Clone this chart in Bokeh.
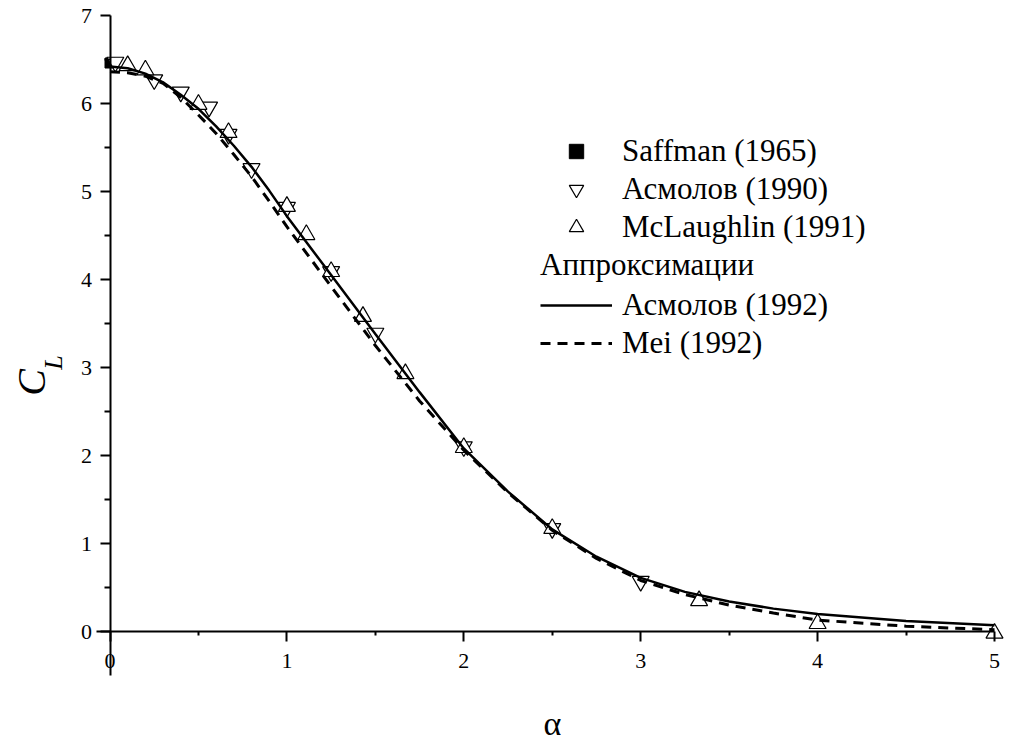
import math
from bokeh.plotting import figure
from bokeh.models import FixedTicker, Legend, LegendItem, Label, Range1d
from bokeh.embed import file_html
from bokeh.resources import INLINE

# ---------------- data ----------------
saffman_alpha = [0.0]
saffman_cl = [6.46]

asm90_alpha = [0.03, 0.25, 0.40, 0.56, 0.67, 0.80, 1.00, 1.25, 1.50, 2.00, 2.50, 3.00]
asm90_cl = [6.47, 6.27, 6.13, 5.96, 5.65, 5.26, 4.82, 4.09, 3.39, 2.10, 1.17, 0.57]

mcl_alpha = [0.10, 0.20, 0.50, 0.67, 1.00, 1.11, 1.25, 1.43, 1.67, 2.00, 2.50, 3.33, 4.00, 5.00]
mcl_cl = [6.43, 6.38, 5.99, 5.67, 4.83, 4.51, 4.09, 3.58, 2.93, 2.09, 1.17, 0.35, 0.09, -0.02]

asm92_alpha = [0.0, 0.1, 0.2, 0.3, 0.4, 0.5, 0.6, 0.7, 0.8, 0.9, 1.0, 1.25, 1.5, 1.75,
               2.0, 2.25, 2.5, 2.75, 3.0, 3.25, 3.5, 3.75, 4.0, 4.5, 5.0]
asm92_cl = [6.42, 6.40, 6.34, 6.24, 6.10, 5.94, 5.74, 5.52, 5.28, 5.01, 4.72, 4.05, 3.38, 2.72,
            2.08, 1.59, 1.16, 0.85, 0.61, 0.45, 0.34, 0.26, 0.20, 0.12, 0.07]

mei_alpha = [0.0, 0.1, 0.2, 0.3, 0.4, 0.5, 0.6, 0.7, 0.8, 0.9, 1.0, 1.25, 1.5, 1.75,
             2.0, 2.25, 2.5, 2.75, 3.0, 3.25, 3.5, 3.75, 4.0, 4.5, 5.0]
mei_cl = [6.36, 6.35, 6.31, 6.23, 6.07, 5.87, 5.66, 5.42, 5.17, 4.89, 4.60, 3.92, 3.25, 2.62,
          2.06, 1.58, 1.15, 0.83, 0.58, 0.42, 0.30, 0.21, 0.13, 0.06, 0.02]

x_ticks = [0, 1, 2, 3, 4, 5]
x_minor = [0.5, 1.5, 2.5, 3.5, 4.5]
y_ticks = [0, 1, 2, 3, 4, 5, 6, 7]
y_minor = [0.5, 1.5, 2.5, 3.5, 4.5, 5.5, 6.5]

FONT = "Liberation Serif"

# frame covers the whole canvas; axes are fixed at x=0 / y=0
W, H = 1011, 744
x0_px, x_scale = 109.5, 176.9   # pixel of alpha=0, pixels per unit
y0_px, y_scale = 631.0, 88.0    # pixel of CL=0, pixels per unit

p = figure(width=W, height=H, output_backend="svg", toolbar_location=None,
           x_range=Range1d(-x0_px / x_scale, (W - x0_px) / x_scale),
           y_range=Range1d(-(H - y0_px) / y_scale, y0_px / y_scale),
           min_border_left=0, min_border_right=0, min_border_top=0, min_border_bottom=0)
p.outline_line_color = None
p.grid.visible = False
p.background_fill_color = "white"
p.border_fill_color = "white"

for ax in (p.xaxis[0], p.yaxis[0]):
    ax.fixed_location = 0
    ax.axis_line_width = 2
    ax.axis_line_color = "black"
    ax.major_tick_line_width = 2
    ax.minor_tick_line_width = 2
    ax.major_tick_line_color = "black"
    ax.minor_tick_line_color = "black"
    ax.major_tick_in = 0
    ax.major_tick_out = 10
    ax.minor_tick_in = 0
    ax.major_label_text_font = FONT
    ax.major_label_text_font_size = "22px"
    ax.major_label_text_color = "black"

p.xaxis[0].ticker = FixedTicker(ticks=x_ticks, minor_ticks=x_minor)
p.yaxis[0].ticker = FixedTicker(ticks=y_ticks, minor_ticks=y_minor)
p.xaxis[0].bounds = (-0.076, 5.0)
p.yaxis[0].bounds = (-0.5, 7.0)
p.xaxis[0].minor_tick_out = 4
p.yaxis[0].minor_tick_out = 6
p.xaxis[0].major_label_standoff = 12
p.yaxis[0].major_label_standoff = 8

r_saff = p.scatter(saffman_alpha, saffman_cl, marker="square", size=10,
                   fill_color="black", line_color="black")
r_asm90 = p.scatter(asm90_alpha, asm90_cl, marker="inverted_triangle", size=17,
                    fill_color="white", line_color="black", line_width=1.2)
r_mcl = p.scatter(mcl_alpha, mcl_cl, marker="triangle", size=17,
                  fill_color="white", line_color="black", line_width=1.2)
r_asm92 = p.line(asm92_alpha, asm92_cl, line_color="black", line_width=2.5)
r_mei = p.line(mei_alpha, mei_cl, line_color="black", line_width=3, line_dash="10 7")

common = dict(label_text_font=FONT, label_text_font_size="31px", label_text_color="black",
              glyph_width=72, glyph_height=36, label_height=36, label_standoff=10,
              spacing=2, padding=0, margin=0, border_line_color=None,
              background_fill_alpha=0)

legend1 = Legend(items=[LegendItem(label="Saffman (1965)", renderers=[r_saff]),
                        LegendItem(label="Асмолов (1990)", renderers=[r_asm90]),
                        LegendItem(label="McLaughlin (1991)", renderers=[r_mcl])],
                 location=(540, H - 245), **common)
legend2 = Legend(items=[LegendItem(label="Асмолов (1992)", renderers=[r_asm92]),
                        LegendItem(label="Mei (1992)", renderers=[r_mei])],
                 location=(540, H - 361), title="Аппроксимации", title_text_font=FONT,
                 title_text_font_size="31px", title_text_font_style="normal",
                 title_text_color="black", title_standoff=4, **common)
p.add_layout(legend1)
p.add_layout(legend2)

p.add_layout(Label(x=552, y=H - 723, x_units="screen", y_units="screen", text="α",
                   text_font=FONT, text_font_size="34px", text_align="center",
                   text_baseline="middle", text_color="black"))
p.add_layout(Label(x=31, y=H - 382, x_units="screen", y_units="screen", text="C",
                   text_font=FONT, text_font_size="40px", text_font_style="italic",
                   text_align="center", text_baseline="middle", angle=math.pi / 2,
                   text_color="black"))
p.add_layout(Label(x=53, y=H - 362, x_units="screen", y_units="screen", text="L",
                   text_font=FONT, text_font_size="26px", text_font_style="italic",
                   text_align="center", text_baseline="middle", angle=math.pi / 2,
                   text_color="black"))

open("out.html", "w").write(file_html(p, INLINE))
